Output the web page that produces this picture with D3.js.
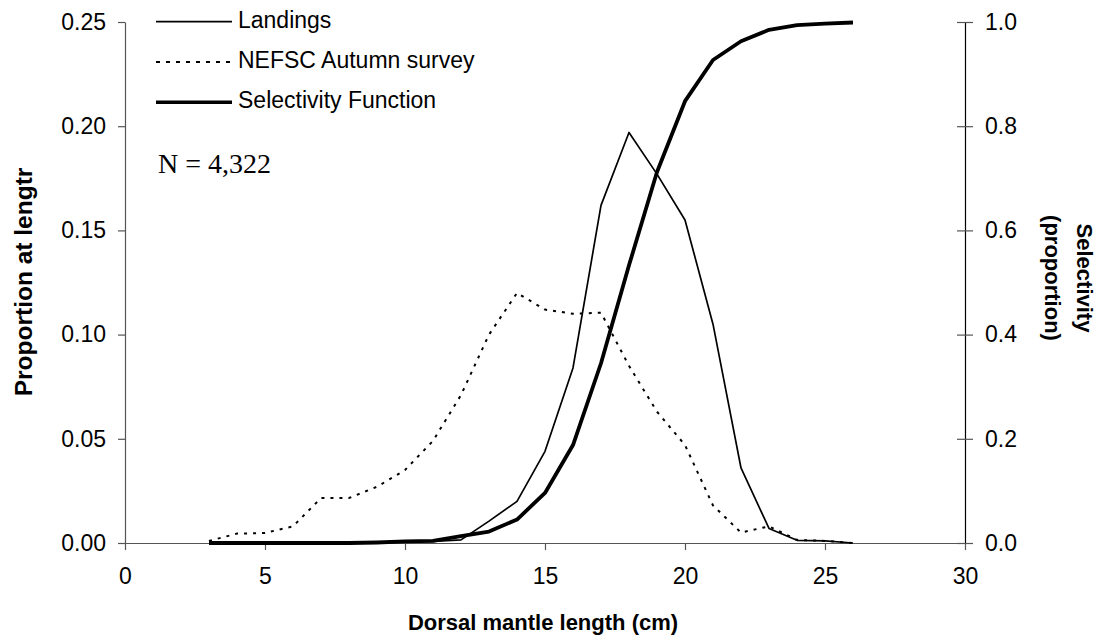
<!DOCTYPE html>
<html>
<head>
<meta charset="utf-8">
<script src="https://cdn.jsdelivr.net/npm/d3@7"></script>
<style>
  body { margin: 0; background: #fff; }
  svg text { font-family: "Liberation Sans", Arial, sans-serif; fill: #000; }
</style>
</head>
<body>
<div id="main"></div>
<script>
// dorsal mantle length (cm)
const lengths = [3, 4, 5, 6, 7, 8, 9, 10, 11, 12, 13, 14, 15, 16, 17, 18, 19, 20, 21, 22, 23, 24, 25, 26];
const landings = [0, 0, 0, 0, 0, 0, 0, 0.0005, 0.0008, 0.0015, 0.0105, 0.020, 0.044, 0.084, 0.162, 0.197, 0.177, 0.155, 0.105, 0.036, 0.007, 0.0013, 0.001, 0];
const survey = [0.001, 0.0045, 0.0048, 0.008, 0.0216, 0.0216, 0.027, 0.035, 0.049, 0.071, 0.100, 0.120, 0.112, 0.110, 0.1105, 0.085, 0.063, 0.047, 0.018, 0.005, 0.008, 0.0015, 0.001, 0];
const selectivity = [0, 0, 0, 0, 0, 0, 0.001, 0.003, 0.004, 0.013, 0.022, 0.045, 0.096, 0.188, 0.345, 0.533, 0.712, 0.848, 0.927, 0.963, 0.985, 0.994, 0.997, 0.999];

const xTicks = [0, 5, 10, 15, 20, 25, 30];
const leftTicks = [0, 0.05, 0.10, 0.15, 0.20, 0.25];
const rightTicks = [0, 0.2, 0.4, 0.6, 0.8, 1.0];

const seriesNames = ["Landings", "NEFSC Autumn survey", "Selectivity Function"];

const W = 1101, H = 640;
const plot = { left: 125, right: 965, top: 22, bottom: 543 };

const svg = d3.select("#main").append("svg")
  .attr("width", W)
  .attr("height", H);

const x = d3.scaleLinear().domain([0, 30]).range([plot.left, plot.right]);
const yL = d3.scaleLinear().domain([0, 0.25]).range([plot.bottom, plot.top]);
const yR = d3.scaleLinear().domain([0, 1]).range([plot.bottom, plot.top]);

// axes
const axisColor = "#555";

const gx = svg.append("g")
  .attr("transform", "translate(0," + plot.bottom + ")")
  .call(d3.axisBottom(x).tickValues(xTicks).tickSizeInner(7).tickSizeOuter(0).tickPadding(18).tickFormat(d3.format("d")));
gx.select(".domain").attr("d", "M" + (plot.left - 7) + ",0.5H" + plot.right);

const gl = svg.append("g")
  .attr("transform", "translate(" + plot.left + ",0)")
  .call(d3.axisLeft(yL).tickValues(leftTicks).tickSizeInner(7).tickSizeOuter(0).tickPadding(12).tickFormat(d3.format(".2f")));

const gr = svg.append("g")
  .attr("transform", "translate(" + plot.right + ",0)")
  .call(d3.axisRight(yR).tickValues(rightTicks).tickSizeInner(8).tickSizeOuter(0).tickPadding(12).tickFormat(d3.format(".1f")));
gr.selectAll(".tick line").attr("x1", -8).attr("x2", 8);

[gx, gl, gr].forEach(g => {
  g.selectAll("path, line").attr("stroke", axisColor).attr("stroke-width", 1.2);
  g.selectAll("text").attr("font-size", 23).attr("font-family", "Liberation Sans, Arial, sans-serif").attr("fill", "#000");
});
gr.select(".domain").attr("stroke", "#000");

// lines
const rows = lengths.map((d, i) => ({ len: d, land: landings[i], surv: survey[i], sel: selectivity[i] }));

const lineL = key => d3.line().x(d => x(d.len)).y(d => yL(d[key]));

svg.append("path")
  .datum(rows)
  .attr("fill", "none")
  .attr("stroke", "#000")
  .attr("stroke-width", 2)
  .attr("stroke-dasharray", "3 6")
  .attr("d", lineL("surv"));

svg.append("path")
  .datum(rows)
  .attr("fill", "none")
  .attr("stroke", "#000")
  .attr("stroke-width", 1.7)
  .attr("stroke-linejoin", "round")
  .attr("d", lineL("land"));

svg.append("path")
  .datum(rows)
  .attr("fill", "none")
  .attr("stroke", "#000")
  .attr("stroke-width", 3.8)
  .attr("stroke-linejoin", "round")
  .attr("d", d3.line().x(d => x(d.len)).y(d => yR(d.sel)));

// legend
const legendStyles = [
  { width: 1.7, dash: null },
  { width: 2, dash: "4 6" },
  { width: 3.6, dash: null }
];
const legend = svg.append("g");
seriesNames.forEach((name, i) => {
  const ly = 21.7 + i * 40.3;
  legend.append("line")
    .attr("x1", 156).attr("x2", 232)
    .attr("y1", ly).attr("y2", ly)
    .attr("stroke", "#000")
    .attr("stroke-width", legendStyles[i].width)
    .attr("stroke-dasharray", legendStyles[i].dash);
  legend.append("text")
    .attr("x", 238)
    .attr("y", ly + 6)
    .attr("font-size", 23)
    .text(name);
});

svg.append("text")
  .attr("x", 158)
  .attr("y", 173)
  .attr("font-size", 28)
  .style("font-family", "'Liberation Serif', 'Times New Roman', serif")
  .text("N = 4,322");

// axis titles
svg.append("text")
  .attr("x", (plot.left + plot.right) / 2 - 2)
  .attr("y", 630)
  .attr("text-anchor", "middle")
  .attr("font-size", 22)
  .attr("font-weight", "bold")
  .text("Dorsal mantle length (cm)");

svg.append("text")
  .attr("transform", "translate(32,282) rotate(-90)")
  .attr("text-anchor", "middle")
  .attr("font-size", 24.5)
  .attr("font-weight", "bold")
  .text("Proportion at lengtr");

const rt = svg.append("text")
  .attr("transform", "translate(1077,278) rotate(90)")
  .attr("text-anchor", "middle")
  .attr("font-size", 22)
  .attr("font-weight", "bold");
rt.append("tspan").attr("x", 0).attr("y", 0).text("Selectivity");
rt.append("tspan").attr("x", 0).attr("y", 32).text("(proportion)");
</script>
</body>
</html>
